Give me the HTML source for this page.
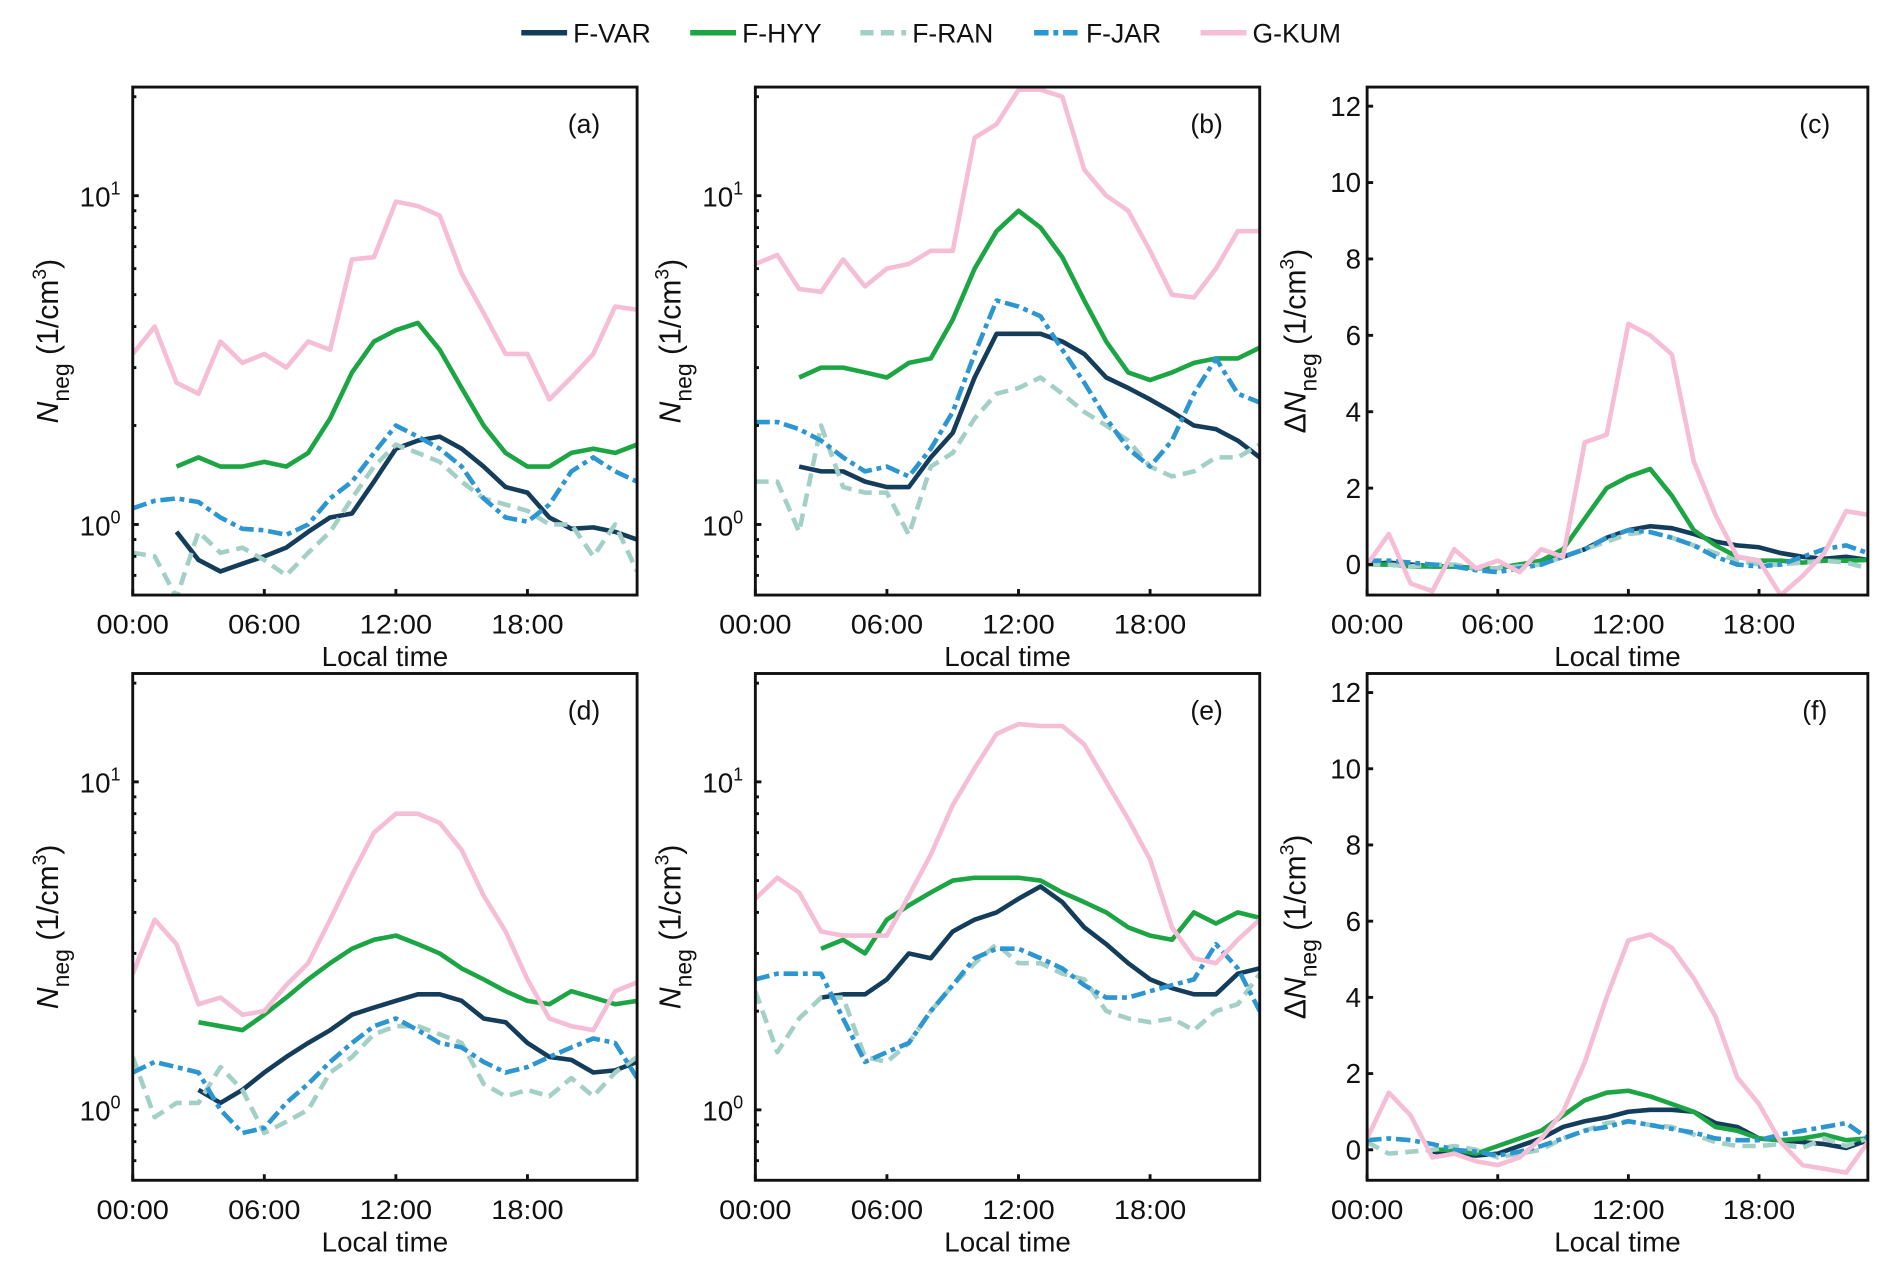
<!DOCTYPE html>
<html><head><meta charset="utf-8">
<style>
html,body{margin:0;padding:0;background:#fff;}
svg{display:block;font-family:"Liberation Sans",Arial,sans-serif;}
</style></head>
<body>
<svg id="fig" width="1892" height="1277" viewBox="0 0 1568 1058" xmlns="http://www.w3.org/2000/svg">
<g id="legend"></g>
<g id="panels"></g>
</svg>
<script>
const hours = [0,1,2,3,4,5,6,7,8,9,10,11,12,13,14,15,16,17,18,19,20,21,22,23];
const seriesNames = ["F-VAR","F-HYY","F-RAN","F-JAR","G-KUM"];
const xTickLabels = ["00:00","06:00","12:00","18:00"];
const xTickValues = [0,6,12,18];
const linTickValues = [0,2,4,6,8,10,12];
const n = null;
// panel a
const aVAR = [n,n,0.95,0.78,0.72,0.76,0.8,0.85,0.95,1.05,1.08,1.35,1.7,1.8,1.85,1.7,1.5,1.3,1.25,1.05,0.97,0.98,0.95,0.9];
const aHYY = [n,n,1.5,1.6,1.5,1.5,1.55,1.5,1.65,2.1,2.9,3.6,3.9,4.1,3.4,2.6,2.0,1.65,1.5,1.5,1.65,1.7,1.65,1.75];
const aRAN = [0.82,0.8,0.6,0.95,0.82,0.85,0.78,0.7,0.82,0.95,1.2,1.5,1.75,1.65,1.55,1.35,1.2,1.15,1.1,1.0,1.0,0.8,1.0,0.72];
const aJAR = [1.12,1.18,1.2,1.17,1.05,0.97,0.96,0.93,1.0,1.2,1.35,1.65,2.0,1.85,1.7,1.5,1.2,1.05,1.02,1.15,1.45,1.6,1.45,1.35];
const aKUM = [3.3,4.0,2.7,2.5,3.6,3.1,3.3,3.0,3.6,3.4,6.4,6.5,9.6,9.3,8.7,5.8,4.4,3.3,3.3,2.4,2.8,3.3,4.6,4.5];
// panel b
const bVAR = [n,n,1.5,1.45,1.45,1.35,1.3,1.3,1.6,1.9,2.8,3.8,3.8,3.8,3.6,3.3,2.8,2.6,2.4,2.2,2.0,1.95,1.8,1.6];
const bHYY = [n,n,2.8,3.0,3.0,2.9,2.8,3.1,3.2,4.2,6.0,7.8,9.0,8.0,6.5,4.8,3.6,2.9,2.75,2.9,3.1,3.2,3.2,3.45];
const bRAN = [1.35,1.35,0.95,2.0,1.3,1.25,1.25,0.93,1.5,1.65,2.1,2.5,2.6,2.8,2.5,2.2,2.0,1.8,1.5,1.4,1.45,1.6,1.6,1.75];
const bJAR = [2.05,2.05,1.95,1.8,1.6,1.45,1.5,1.4,1.7,2.2,3.3,4.8,4.6,4.3,3.4,2.7,2.1,1.7,1.5,1.8,2.5,3.2,2.5,2.35];
const bKUM = [6.2,6.6,5.2,5.1,6.4,5.3,6.0,6.2,6.8,6.8,15,16.5,21,21,20,12,10,9,6.8,5,4.9,6,7.8,7.8];
// panel c
const cVAR = [0,0.05,0,-0.05,-0.05,-0.1,-0.1,0,0.05,0.2,0.4,0.7,0.9,1.0,0.95,0.8,0.6,0.5,0.45,0.3,0.2,0.15,0.2,0.12];
const cHYY = [0,0,-0.05,-0.05,-0.05,-0.1,-0.1,0,0.1,0.4,1.2,2.0,2.3,2.5,1.8,0.9,0.5,0.2,0.1,0.1,0.05,0.1,0.1,0.12];
const cRAN = [0,0,-0.05,0,0,-0.1,-0.1,-0.05,0,0.2,0.4,0.6,0.8,0.85,0.7,0.5,0.3,0.1,0,0,0.05,0.1,0.05,-0.1];
const cJAR = [0.1,0.1,0.05,0,-0.05,-0.15,-0.2,-0.1,0,0.2,0.4,0.7,0.9,0.85,0.7,0.5,0.2,0,-0.05,0,0.2,0.4,0.5,0.3];
const cKUM = [0,0.8,-0.5,-0.7,0.4,-0.1,0.1,-0.2,0.4,0.2,3.2,3.4,6.3,6.0,5.5,2.7,1.3,0.2,0.1,-0.8,-0.3,0.3,1.4,1.3];
// panel d
const dVAR = [n,n,n,1.15,1.05,1.15,1.3,1.45,1.6,1.75,1.95,2.05,2.15,2.25,2.25,2.15,1.9,1.85,1.6,1.45,1.42,1.3,1.32,1.4];
const dHYY = [n,n,n,1.85,1.8,1.75,1.95,2.2,2.5,2.8,3.1,3.3,3.4,3.2,3.0,2.7,2.5,2.3,2.15,2.1,2.3,2.2,2.1,2.15];
const dRAN = [1.45,0.95,1.05,1.05,1.35,1.15,0.85,0.92,1.0,1.3,1.45,1.7,1.8,1.8,1.7,1.6,1.2,1.1,1.15,1.1,1.25,1.1,1.3,1.45];
const dJAR = [1.3,1.4,1.35,1.3,1.0,0.85,0.88,1.05,1.2,1.4,1.6,1.8,1.9,1.75,1.6,1.55,1.4,1.3,1.35,1.45,1.55,1.65,1.6,1.25];
const dKUM = [2.6,3.8,3.2,2.1,2.2,1.95,2.0,2.4,2.8,3.8,5.2,7.0,8.0,8.0,7.5,6.2,4.5,3.5,2.5,1.9,1.8,1.75,2.3,2.45];
// panel e
const eVAR = [n,n,n,2.2,2.25,2.25,2.5,3.0,2.9,3.5,3.8,4.0,4.4,4.8,4.3,3.6,3.2,2.8,2.5,2.35,2.25,2.25,2.6,2.7];
const eHYY = [n,n,n,3.1,3.3,3.0,3.8,4.2,4.6,5.0,5.1,5.1,5.1,5.0,4.6,4.3,4.0,3.6,3.4,3.3,4.0,3.7,4.0,3.85];
const eRAN = [2.3,1.5,1.9,2.2,2.2,1.45,1.4,1.6,2.0,2.4,2.8,3.2,2.8,2.8,2.6,2.5,2.0,1.9,1.85,1.9,1.75,2.0,2.1,2.6];
const eJAR = [2.5,2.6,2.6,2.6,1.9,1.4,1.5,1.6,2.0,2.4,2.9,3.1,3.1,2.9,2.7,2.4,2.2,2.2,2.3,2.4,2.5,3.2,2.7,2.0];
const eKUM = [4.4,5.1,4.6,3.5,3.4,3.4,3.4,4.5,6.0,8.5,11,14,15,14.8,14.8,13,10,7.7,5.8,3.6,2.9,2.8,3.3,3.8];
// panel f
const fVAR = [n,n,n,-0.05,-0.1,-0.15,-0.1,0.1,0.3,0.6,0.75,0.85,1.0,1.05,1.05,1.0,0.7,0.6,0.3,0.25,0.2,0.15,0.05,0.25];
const fHYY = [n,n,n,0,0,-0.1,0.1,0.3,0.5,0.9,1.3,1.5,1.55,1.4,1.2,1.0,0.6,0.5,0.3,0.25,0.3,0.4,0.25,0.3];
const fRAN = [0.2,-0.1,-0.05,0,0.1,0,-0.2,-0.1,0,0.3,0.5,0.7,0.75,0.65,0.6,0.4,0.2,0.1,0.1,0.15,0.05,0.3,0.1,0.3];
const fJAR = [0.25,0.3,0.25,0.15,0,-0.05,-0.15,-0.05,0.1,0.3,0.5,0.6,0.75,0.65,0.55,0.45,0.3,0.25,0.25,0.4,0.5,0.6,0.7,0.3];
const fKUM = [0.3,1.5,0.9,-0.2,-0.1,-0.3,-0.4,-0.2,0.3,1.0,2.3,4.0,5.5,5.65,5.3,4.5,3.5,1.9,1.2,0.2,-0.4,-0.5,-0.6,0.2];

const colors = ["#143d5c","#1ba543","#a3d0c6","#2b96d0","#f6bdd6"];
const dashes = ["","","11 6","12 4 4 4",""];
const NS = "http://www.w3.org/2000/svg";
function mk(tag, attrs, parent){ const e=document.createElementNS(NS,tag); for(const k in attrs) e.setAttribute(k,attrs[k]); if(parent) parent.appendChild(e); return e; }

// legend
const legend = document.getElementById('legend');
const legX = [432,572,713,857,995];
seriesNames.forEach((name,i)=>{
  const g = mk('g',{},legend);
  
  
  mk('line',{x1:legX[i],y1:27,x2:legX[i]+38,y2:27,stroke:colors[i],'stroke-width':4.5,'stroke-dasharray':dashes[i]},g);
  const t = mk('text',{x:legX[i]+43,y:35,'font-size':22,fill:'#111'},g);
  t.textContent = name;
});

const panels = [
  {id:'a',x0:110,x1:528,y0:72,y1:493,log:true,data:[aVAR,aHYY,aRAN,aJAR,aKUM],ylx:48},
  {id:'b',x0:626,x1:1044,y0:72,y1:493,log:true,data:[bVAR,bHYY,bRAN,bJAR,bKUM],ylx:564},
  {id:'c',x0:1133,x1:1548,y0:72,y1:493,log:false,data:[cVAR,cHYY,cRAN,cJAR,cKUM],ylx:1082},
  {id:'d',x0:110,x1:528,y0:558,y1:978,log:true,data:[dVAR,dHYY,dRAN,dJAR,dKUM],ylx:48},
  {id:'e',x0:626,x1:1044,y0:558,y1:978,log:true,data:[eVAR,eHYY,eRAN,eJAR,eKUM],ylx:564},
  {id:'f',x0:1133,x1:1548,y0:558,y1:978,log:false,data:[fVAR,fHYY,fRAN,fJAR,fKUM],ylx:1082}
];
const root = document.getElementById('panels');
const defs = mk('defs',{},document.getElementById('fig'));
panels.forEach(p=>{
  const g = mk('g',{},root);
  
  
  const xs = h => p.x0 + (h/23)*(p.x1-p.x0);
  const lmin = Math.log10(0.61), lmax = Math.log10(21.4);
  const ys = p.log ? v => p.y1 - (Math.log10(v)-lmin)/(lmax-lmin)*(p.y1-p.y0)
                   : v => p.y1 - (v+0.8)/(12.5+0.8)*(p.y1-p.y0);
  const cp = mk('clipPath',{id:'clip'+p.id},defs);
  mk('rect',{x:p.x0,y:p.y0,width:p.x1-p.x0,height:p.y1-p.y0},cp);
  const sg = mk('g',{'clip-path':'url(#clip'+p.id+')'},g);
  p.data.forEach((arr,si)=>{
    let d='';
    arr.forEach((v,i)=>{ if(v===null) return; d += (d?'L':'M')+xs(hours[i]).toFixed(1)+','+ys(v).toFixed(1); });
    const pl = mk('path',{d:d,fill:'none',stroke:colors[si],'stroke-width':3.8,'stroke-dasharray':dashes[si],'stroke-linejoin':'round'},sg);
    
    
  });
  const fr = mk('rect',{x:p.x0,y:p.y0,width:p.x1-p.x0,height:p.y1-p.y0,fill:'none',stroke:'#111','stroke-width':2.4},g);
  
  
  xTickValues.forEach((h,i)=>{
    const x = xs(h);
    mk('line',{x1:x,y1:p.y1,x2:x,y2:p.y1-5,stroke:'#111','stroke-width':2.4},g);
    const t = mk('text',{x:x,y:p.y1+32,'font-size':22,'text-anchor':'middle',fill:'#111','textLength':60,'lengthAdjust':'spacingAndGlyphs'},g);
    
    
    t.textContent = xTickLabels[i];
  });
  const xt = mk('text',{x:(p.x0+p.x1)/2,y:p.y1+59,'font-size':23,'text-anchor':'middle',fill:'#111'},g);
  
  
  xt.textContent = 'Local time';
  if(p.log){
    [1,10].forEach((v,k)=>{
      const y = ys(v);
      mk('line',{x1:p.x0,y1:y,x2:p.x0+5,y2:y,stroke:'#111','stroke-width':2.4},g);
      const t = mk('text',{x:p.x0-27,y:y+9,'font-size':23,fill:'#111','text-anchor':'middle'},g);
      
      
      t.textContent='10';
      const s = mk('tspan',{dy:-10,'font-size':15},t); s.textContent = String(k);
    });
    for(let dec=-1; dec<=1; dec++) for(let m=2;m<=9;m++){
      const v = m*Math.pow(10,dec);
      if(v<0.61||v>21.4) continue;
      const y = ys(v);
      mk('line',{x1:p.x0,y1:y,x2:p.x0+3,y2:y,stroke:'#111','stroke-width':2.4},g);
    }
  } else {
    linTickValues.forEach(v=>{
      const y = ys(v);
      mk('line',{x1:p.x0,y1:y,x2:p.x0+5,y2:y,stroke:'#111','stroke-width':2.4},g);
      const t = mk('text',{x:p.x0-5,y:y+8,'font-size':23,fill:'#111','text-anchor':'end'},g);
      
      
      t.textContent = String(v);
    });
  }
  const cy = (p.y0+p.y1)/2;
  const yt = mk('text',{transform:'translate('+p.ylx+','+cy+') rotate(-90)','font-size':25,'text-anchor':'middle',fill:'#111'},g);
  
  
  if(!p.log){ const d0 = mk('tspan',{},yt); d0.textContent='\u0394'; }
  const t1 = mk('tspan',{'font-style':'italic'},yt); t1.textContent='N';
  const t2 = mk('tspan',{dy:9,'font-size':19},yt); t2.textContent='neg';
  const t3 = mk('tspan',{dy:-9},yt); t3.textContent=' (1/cm';
  const t4 = mk('tspan',{dy:-10,'font-size':16},yt); t4.textContent='3';
  const t5 = mk('tspan',{dy:10},yt); t5.textContent=')';
  const pl = mk('text',{x:p.x1-44,y:p.y0+38,'font-size':22,'text-anchor':'middle',fill:'#111'},g);
  
  
  pl.textContent = '('+p.id+')';
});
</script>
</body></html>
